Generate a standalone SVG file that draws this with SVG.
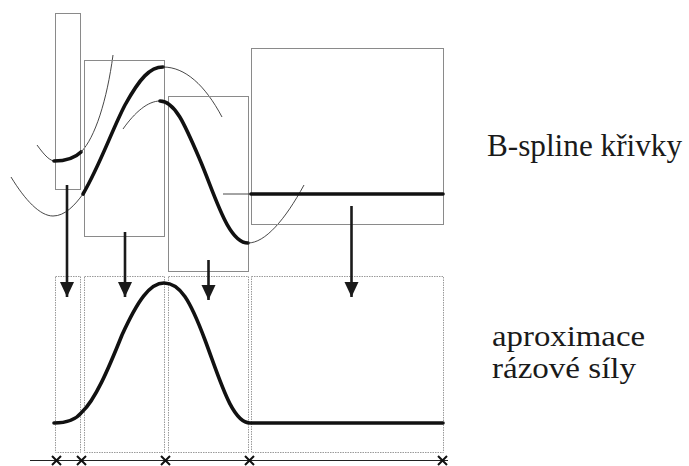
<svg xmlns="http://www.w3.org/2000/svg" width="689" height="466" viewBox="0 0 689 466">
<defs>
<style>
.box{fill:none;stroke:#8a8a8a;stroke-width:1}
.lbox{fill:none;stroke:#9a9a9a;stroke-width:1;stroke-dasharray:1.5 1}
.thin{fill:none;stroke:#333;stroke-width:0.9}
.thick{fill:none;stroke:#111;stroke-width:3.6;stroke-linecap:round;stroke-linejoin:round}
.arr{fill:none;stroke:#1a1a1a;stroke-width:2.6}
.ax{fill:none;stroke:#222;stroke-width:1.2}
.xm{fill:none;stroke:#111;stroke-width:2}
.lbl{fill:#1a1a1a;font-family:Liberation Serif, DejaVu Serif, Noto Serif, serif}
</style>
<marker id="ah" markerUnits="userSpaceOnUse" markerWidth="16" markerHeight="15" refX="15" refY="7" orient="auto">
<path d="M0,0 L15,7 L0,14 Z" fill="#1a1a1a"/>
</marker>
</defs>
<rect width="689" height="466" fill="#ffffff"/>

<g id="upper-seg1">
<rect class="box" x="55.5" y="13.5" width="25" height="176"/>
<path class="thin" d="M37,145 C45,156 50,161 55,161"/>
<path class="thick" d="M54,161 C65,161 75,158 81,152"/>
<path class="thin" d="M81,152 C95,138 107,100 113,55"/>
</g>
<g id="upper-seg2">
<rect class="box" x="84.5" y="60.5" width="80" height="176"/>
<path class="thin" d="M11,177 C25,200 40,216 53,216 C65,216 75,205 83,194"/>
<path class="thick" d="M83,194 C100,165 112,130 125,105 C140,78 150,67 163,67"/>
<path class="thin" d="M163,67 C185,67 205,85 222,117"/>
</g>
<g id="upper-seg3">
<rect class="box" x="168.5" y="96.5" width="80" height="175"/>
<path class="thin" d="M123,129 C135,112 148,101 160,101"/>
<path class="thick" d="M160,101 C175,101 185,125 200,160 C215,195 228,243 248,243"/>
<path class="thin" d="M248,243 C265,243 285,220 304,185"/>
</g>
<g id="upper-seg4">
<rect class="box" x="251.5" y="48.5" width="192" height="176"/>
<path class="thin" d="M223,194 L251,194"/>
<path class="thick" d="M251,194 L443,194"/>
</g>

<g id="lower-approx">
<rect class="lbox" x="55.5" y="276.5" width="25" height="176"/>
<rect class="lbox" x="84.5" y="276.5" width="80" height="176"/>
<rect class="lbox" x="168.5" y="276.5" width="80" height="176"/>
<rect class="lbox" x="251.5" y="276.5" width="192" height="176"/>
<path class="thick" d="M54,423 C65,423 75,421 82,412 C95,400 108,370 122,335 C138,300 150,283 164,283 C180,283 190,300 205,340 C220,380 232,423 250,423 L443,423"/>
</g>

<g id="axis">
<path class="ax" d="M30,460.5 L448,460.5"/>
<path class="xm" d="M52,456 L61,465 M61,456 L52,465"/>
<path class="xm" d="M77,456 L86,465 M86,456 L77,465"/>
<path class="xm" d="M161,456 L170,465 M170,456 L161,465"/>
<path class="xm" d="M245,456 L254,465 M254,456 L245,465"/>
<path class="xm" d="M438,456 L447,465 M447,456 L438,465"/>
</g>

<g id="connectors">
<path class="arr" d="M67,185 L67,297" marker-end="url(#ah)"/>
<path class="arr" d="M125,232 L125,297" marker-end="url(#ah)"/>
<path class="arr" d="M208.5,260 L208.5,300" marker-end="url(#ah)"/>
<path class="arr" d="M351.5,206 L351.5,297" marker-end="url(#ah)"/>
</g>

<g id="label-bspline">
<text class="lbl" x="487" y="156" font-size="31" textLength="195" lengthAdjust="spacingAndGlyphs">B-spline křivky</text>
</g>
<g id="label-approx">
<text class="lbl" x="492" y="346" font-size="30" textLength="153" lengthAdjust="spacingAndGlyphs">aproximace</text>
<text class="lbl" x="492" y="378" font-size="30" textLength="144" lengthAdjust="spacingAndGlyphs">rázové síly</text>
</g>
</svg>
